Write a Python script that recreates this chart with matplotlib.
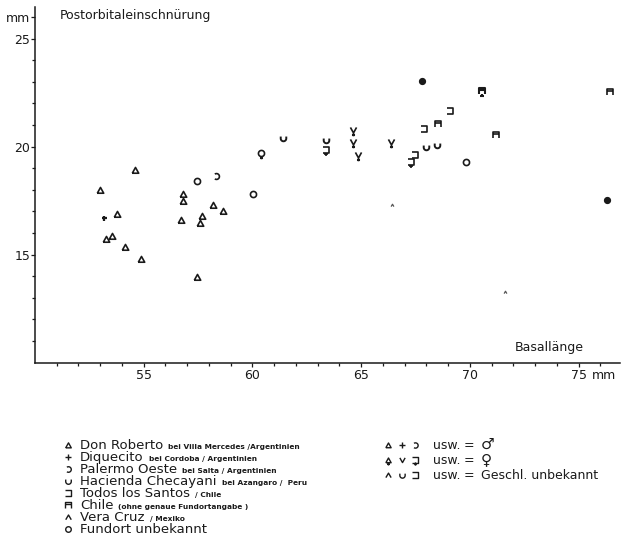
import numpy as np
import matplotlib
matplotlib.use("Agg")
import matplotlib.pyplot as plt
from matplotlib.path import Path
from matplotlib.ticker import FixedLocator

plt.rcParams['font.family'] = ['DejaVu Sans']

# ---- Basallänge (x, mm) vs. Postorbitaleinschnürung (y, mm) ----
don_roberto_m_x = [54.59, 52.98, 53.77, 53.27, 53.54, 54.16, 54.88, 56.79,
                   56.81, 56.70, 57.67, 57.57, 57.47, 58.19, 58.65]
don_roberto_m_y = [18.91, 18.00, 16.88, 15.74, 15.86, 15.34, 14.77, 17.80,
                   17.50, 16.58, 16.79, 16.45, 13.94, 17.30, 17.02]
diquecito_m_x = [53.19]
diquecito_m_y = [16.70]
palermo_m_x = [58.32]
palermo_m_y = [18.62]
hacienda_f_x = [64.64, 64.64, 66.36, 64.87]
hacienda_f_y = [20.77, 20.20, 20.20, 19.60]
hacienda_u_x = [61.40, 63.37, 67.97, 68.50]
hacienda_u_y = [20.38, 20.30, 19.96, 20.07]
todos_u_x = [69.07, 67.89, 67.47]
todos_u_y = [21.63, 20.81, 19.60]
todos_f_x = [63.37, 67.28]
todos_f_y = [19.84, 19.27]
chile_u_x = [68.53, 71.21, 76.43]
chile_u_y = [21.04, 20.53, 22.52]
chile_f_x = [70.57]
chile_f_y = [22.59]
vera_cruz_x = [66.43, 71.60]
vera_cruz_y = [17.30, 13.28]
unbekannt_x = [57.45, 60.04, 69.80]
unbekannt_y = [18.41, 17.80, 19.27]
unbekannt_f_x = [60.38]
unbekannt_f_y = [19.68]
unbekannt_dark_x = [67.81, 76.32]
unbekannt_dark_y = [23.04, 17.52]

x_major = [55, 60, 65, 70, 75]
y_major = [15, 20, 25]

legend_places = ["Don Roberto", "Diquecito", "Palermo Oeste", "Hacienda Checayani",
                 "Todos los Santos", "Chile", "Vera Cruz", "Fundort unbekannt"]
legend_notes = ["bei Villa Mercedes /Argentinien", "bei Cordoba / Argentinien",
                "bei Salta / Argentinien", "bei Azangaro /  Peru", "/ Chile",
                "(ohne genaue Fundortangabe )", "/ Mexiko", ""]

INK = "#1a1a1a"


# ---- symbol shapes (body inside the unit box, optional ♀ stem) ----
def _arc(a0, a1, n=24):
    t = np.radians(np.linspace(a0, a1, n))
    return list(zip(np.cos(t), np.sin(t)))


def shape(kind, stem=False):
    segs = []
    if kind == "tri":
        segs.append([(-1, -0.85), (1, -0.85), (0, 0.95), (-1, -0.85)])
    elif kind == "plus":
        segs.append([(-1, 0), (1, 0)])
        segs.append([(0, -1), (0, 1)])
    elif kind == "revc":
        segs.append(_arc(-125, 125))
    elif kind == "u":
        segs.append([(-1, 0.7)] + _arc(180, 360) + [(1, 0.7)])
    elif kind == "v":
        segs.append([(-1, 1), (0, -0.8), (1, 1)])
    elif kind == "todos":
        segs.append([(-1, 1), (1, 1), (1, -1), (-1, -1)])
    elif kind == "chile":
        segs.append([(-1, -1), (-1, 1), (1, 1), (1, -1)])
        segs.append([(-1, 0.3), (1, 0.3)])
    elif kind == "hat":
        segs.append([(-1, -0.8), (0, 0.9), (1, -0.8)])
    elif kind == "circ":
        segs.append(_arc(0, 360, 36))
    if stem:
        segs.append([(0, -0.9), (0, -1.9)])
        segs.append([(-0.5, -1.45), (0.5, -1.45)])
    verts, codes = [], []
    for s in segs:
        verts += s
        codes += [Path.MOVETO] + [Path.LINETO] * (len(s) - 1)
    return Path(np.array(verts, float), codes)


def put(ax, xs, ys, kind, stem=False, body=4.6, lw=1.2, color=INK, **kw):
    p = shape(kind, stem)
    ms = body * np.max(np.abs(p.vertices))
    ax.plot(xs, ys, linestyle="none", marker=p, markersize=ms,
            markerfacecolor="none", markeredgecolor=color,
            markeredgewidth=lw, **kw)


fig = plt.figure(figsize=(6.22, 5.60), dpi=100)
W, H = 622, 560
x0, x1 = 50, 76.9
y0, y1 = 10, 26.46
ax = fig.add_axes([35 / W, 1 - 362.5 / H, 585 / W, 355.5 / H])
ax.set_xlim(x0, x1)
ax.set_ylim(y0, y1)
for s in ("top", "right"):
    ax.spines[s].set_visible(False)
for s in ("left", "bottom"):
    ax.spines[s].set_linewidth(1.1)
    ax.spines[s].set_color(INK)

ax.xaxis.set_major_locator(FixedLocator(x_major + [76.15]))
ax.set_xticklabels([str(v) for v in x_major] + ["mm"])
ax.xaxis.set_minor_locator(FixedLocator(np.arange(51, 77, 1)))
ax.yaxis.set_major_locator(FixedLocator(y_major + [26]))
ax.set_yticklabels([str(v) for v in y_major] + ["mm"])
ax.yaxis.set_minor_locator(FixedLocator(np.arange(11, 27, 1)))
ax.tick_params(which="both", direction="out", color=INK, width=0.9,
               labelsize=9, labelcolor=INK)
ax.tick_params(which="major", length=3.0)
ax.tick_params(which="minor", length=2.5)
ax.tick_params(axis="y", pad=0.5)
ax.tick_params(axis="x", pad=2)
ax.xaxis.get_major_ticks()[-1].tick1line.set_visible(False)

ax.text(0.82, 0.025, "Basallänge", transform=ax.transAxes,
        fontsize=9, color=INK, ha="left", va="bottom")
fig.text(60 / W, 1 - 15 / H, "Postorbitaleinschnürung", fontsize=9,
         color=INK, ha="left", va="center")

# ---- points ----
put(ax, don_roberto_m_x, don_roberto_m_y, "tri")
put(ax, diquecito_m_x, diquecito_m_y, "plus", body=3.6, lw=1.6)
put(ax, palermo_m_x, palermo_m_y, "revc", body=4.2)
put(ax, hacienda_f_x, hacienda_f_y, "v", stem=True, body=4.4)
put(ax, hacienda_u_x, hacienda_u_y, "u", body=4.0, lw=1.4)
put(ax, todos_u_x, todos_u_y, "todos", body=4.4)
put(ax, todos_f_x, todos_f_y, "todos", stem=True, body=4.4)
put(ax, chile_u_x, chile_u_y, "chile", body=4.4)
put(ax, chile_f_x, chile_f_y, "chile", stem=True, body=4.8, lw=1.5)
put(ax, vera_cruz_x, vera_cruz_y, "hat", body=2.0, lw=0.9, color="#555555")
put(ax, unbekannt_x, unbekannt_y, "circ", body=4.4)
put(ax, unbekannt_f_x, unbekannt_f_y, "circ", stem=True, body=4.4)
ax.plot(unbekannt_dark_x, unbekannt_dark_y, linestyle="none", marker="o",
        markersize=4.2, color=INK)

# ---- legend block (figure pixel coordinates) ----
lax = fig.add_axes([0, 0, 1, 1])
lax.set_xlim(0, W)
lax.set_ylim(H, 0)
lax.axis("off")

legend_kinds = [("tri", False), ("plus", False), ("revc", False), ("u", False),
                ("todos", False), ("chile", False), ("hat", False), ("circ", False)]
renderer = fig.canvas.get_renderer()
row_y = 445.0
for (kind, st), place, note in zip(legend_kinds, legend_places, legend_notes):
    put(lax, [68], [row_y], kind, stem=st, body=4.0, lw=1.0)
    t = lax.text(80, row_y + 4.2, place, fontsize=9.5, color=INK,
                 ha="left", va="baseline")
    if note:
        bb = t.get_window_extent(renderer)
        lax.text(bb.x1 + 5, row_y + 4.2, note, fontsize=5.3,
                 fontweight="bold", color=INK, ha="left", va="baseline")
    row_y += 12.0

right_rows = [
    ([("tri", False), ("plus", False), ("revc", False)], "♂", 445),
    ([("tri", True), ("v", False), ("todos", True)], "♀", 460),
    ([("hat", False), ("u", False), ("todos", False)], "Geschl. unbekannt", 475),
]
for kinds, sex, yy in right_rows:
    for (kind, st), xx in zip(kinds, [388, 402, 415]):
        put(lax, [xx], [yy], kind, stem=st, body=3.8, lw=1.0)
    lax.text(433, yy + 4, "usw.", fontsize=9, color=INK, ha="left",
             va="baseline")
    lax.text(464, yy + 4, "=", fontsize=9, color=INK, ha="left",
             va="baseline")
    lax.text(481, yy + 4, sex, fontsize=9 if len(sex) > 1 else 11,
             color=INK, ha="left", va="baseline")

fig.savefig("out.png", dpi=100, facecolor="white")
